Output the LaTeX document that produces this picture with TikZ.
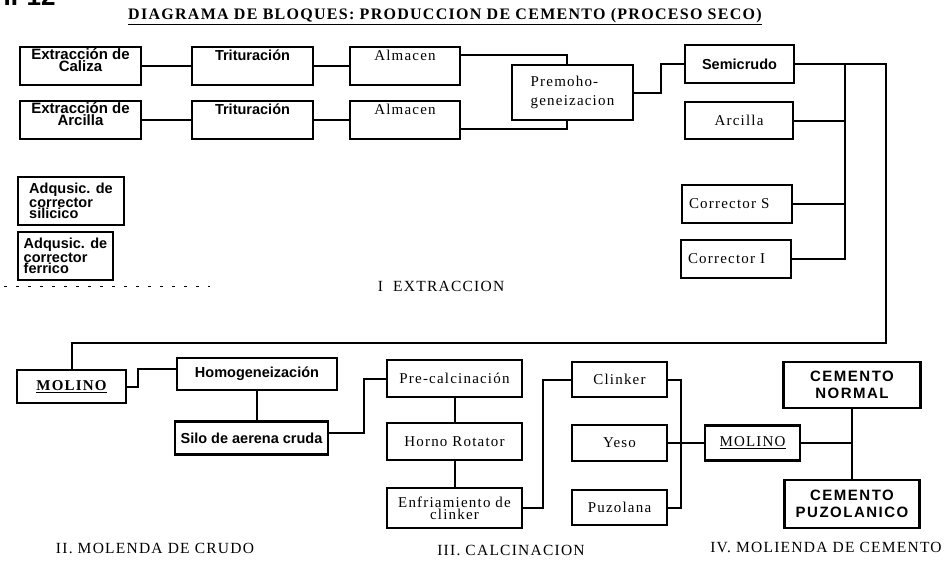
\documentclass[tikz,border=0pt]{standalone}
\usepackage{fontspec}
\setmainfont{Liberation Serif}
\setsansfont{Liberation Sans}
\newfontfamily\escaneo[LetterSpace=8]{Liberation Serif}
\newfontfamily\escaneosans[LetterSpace=10]{Liberation Sans}

\tikzset{
	caja/.style={draw,line width=2.2pt,inner sep=0pt,align=center},
	gruesa/.style={font=\sffamily\bfseries\fontsize{14.5}{10}\selectfont},
	apretada/.style={font=\sffamily\bfseries\fontsize{15}{10}\selectfont},
	adqusic/.style={font=\sffamily\bfseries\fontsize{14.5}{11}\selectfont},
	fina/.style={font=\escaneo\fontsize{15}{19}\selectfont},
	cemento/.style={font=\escaneosans\bfseries\fontsize{15}{16.5}\selectfont},
	arriba/.style={text height=13pt,text depth=25pt},
	arriba2/.style={text height=24.5pt,text depth=13.5pt},
	etapa/.style={font=\escaneo\fontsize{15.5}{18}\selectfont},
	linea/.style={line width=2pt},
}

\begin{document}
\begin{tikzpicture}[x=1pt,y=-1pt]
	\useasboundingbox (0,0) rectangle (948,568);
	\node[anchor=base west,font=\sffamily\bfseries\fontsize{26}{26}\selectfont] (hoja) at (0,5) {II-12};
	\node[anchor=base,font=\escaneo\bfseries\fontsize{16}{18}\selectfont] (titulo) at (445,19) {\underline{DIAGRAMA DE BLOQUES: PRODUCCION DE CEMENTO (PROCESO SECO)}};

	\node[caja,apretada,arriba2,minimum width=121pt] (caliza) at (80.5,66) {Extracción de\\Caliza};
	\node[caja,gruesa,arriba,minimum width=121pt] (trit1) at (252.5,66) {Trituración};
	\node[caja,fina,arriba,minimum width=110pt] (alm1) at (405,66) {Almacen};
	\node[caja,apretada,arriba2,minimum width=121pt] (arcext) at (80.5,120) {Extracción de\\Arcilla};
	\node[caja,gruesa,arriba,minimum width=121pt] (trit2) at (252.5,120) {Trituración};
	\node[caja,fina,arriba,minimum width=110pt] (alm2) at (405,120) {Almacen};
	\node[caja,fina,align=left,minimum width=121pt,minimum height=55pt] (premo) at (572.5,92.5) {Premoho-\\geneizacion};

	\node[caja,gruesa,minimum width=109pt,minimum height=38pt] (semicrudo) at (739.5,64) {Semicrudo};
	\node[caja,fina,minimum width=108pt,minimum height=37pt] (arcilla) at (739,120.5) {Arcilla};
	\node[caja,fina,align=left,text width=96pt,minimum width=110pt,minimum height=38pt] (correctors) at (737,204) {Corrector S};
	\node[caja,fina,align=left,text width=96pt,minimum width=110pt,minimum height=38pt] (correctori) at (736,259) {Corrector I};

	\node[caja,adqusic,align=left,minimum width=106pt,minimum height=48pt] (silicico) at (71,201) {Adqusic. de\\corrector\\silicico};
	\node[caja,adqusic,align=left,minimum width=95pt,minimum height=48pt] (ferrico) at (65.5,256) {Adqusic. de\\corrector\\ferrico};
	\draw[line width=1pt,dash pattern=on 3pt off 9pt] (4,286) -- (210,286);
	\node[etapa] (etapa1) at (441,286) {I\ \ EXTRACCION};

	\node[caja,minimum width=109pt,minimum height=33pt,font=\escaneo\bfseries\fontsize{15}{18}\selectfont] (molino) at (71.5,386.5) {\underline{MOLINO}};
	\node[caja,gruesa,minimum width=160pt,minimum height=32pt] (homog) at (257,374) {Homogeneización};
	\node[caja,gruesa,minimum width=153pt,minimum height=33pt] (silo) at (251.5,438) {Silo de aerena cruda};
	\node[caja,fina,minimum width=135pt,minimum height=37pt] (precal) at (454.5,378.5) {Pre-calcinación};
	\node[caja,fina,minimum width=135pt,minimum height=37pt] (horno) at (454.5,441.5) {Horno Rotator};
	\node[caja,fina,minimum width=135pt,minimum height=40pt,font=\escaneo\fontsize{15}{12}\selectfont] (enfriam) at (454.5,508) {Enfriamiento de\\clinker};
	\node[caja,fina,minimum width=95pt,minimum height=35pt] (clinker) at (619.5,379.5) {Clinker};
	\node[caja,fina,minimum width=95pt,minimum height=36pt] (yeso) at (619.5,443) {Yeso};
	\node[caja,fina,minimum width=95pt,minimum height=35pt] (puzolana) at (619.5,507.5) {Puzolana};
	\node[caja,fina,minimum width=95pt,minimum height=35pt] (molino2) at (752.5,443) {\underline{MOLINO}};
	\node[caja,cemento,minimum width=137pt,minimum height=46pt] (normal) at (852,385) {CEMENTO\\NORMAL};
	\node[caja,cemento,minimum width=135pt,minimum height=48pt] (puzolanico) at (852,504) {CEMENTO\\PUZOLANICO};

	\node[etapa] (etapa2) at (155,548) {II. MOLENDA DE CRUDO};
	\node[etapa] (etapa3) at (511,550) {III. CALCINACION};
	\node[etapa] (etapa4) at (826,547) {IV. MOLIENDA DE CEMENTO};

	\draw[linea] (caliza) -- (trit1);
	\draw[linea] (trit1) -- (alm1);
	\draw[linea] (arcext) -- (trit2);
	\draw[linea] (trit2) -- (alm2);
	\draw[linea] ([yshift=11pt]alm1.east) -| ([xshift=-5.5pt]premo.north);
	\draw[linea] ([yshift=-9pt]alm2.east) -| ([xshift=-5.5pt]premo.south);
	\draw[linea] (premo.east) -- ++(27,0) |- (semicrudo.west);

	\coordinate (bus) at (845,64);
	\coordinate (vuelta) at (886,343);
	\draw[linea] (semicrudo.east) -| (vuelta) -| (molino.north);
	\draw[linea] (arcilla.east) -- (arcilla.east -| bus);
	\draw[linea] (correctors.east) -- (correctors.east -| bus);
	\draw[linea] (correctori.east) -| (bus);

	\draw[linea] (molino.east) -- ++(11,0) |- ([yshift=5pt]homog.west);
	\draw[linea] (homog.south) -- (homog.south |- silo.north);
	\draw[linea] ([yshift=5pt]silo.east) -- ++(35,0) |- (precal.west);
	\draw[linea] (precal) -- (horno);
	\draw[linea] (horno) -- (enfriam);
	\draw[linea] (enfriam.east) -- ++(20,0) |- (clinker.west);
	\draw[linea] (clinker.east) -- ++(13,0) |- (puzolana.east);
	\draw[linea] (yeso) -- (molino2);
	\draw[linea] (normal) -- (puzolanico);
	\draw[linea] (molino2.east) -- (molino2.east -| normal.south);
\end{tikzpicture}
\end{document}
